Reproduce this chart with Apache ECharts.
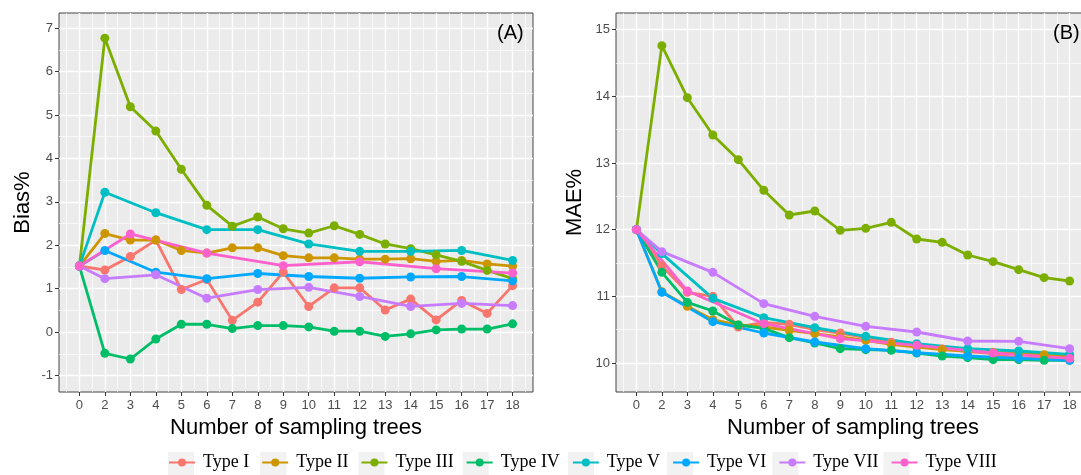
<!DOCTYPE html>
<html><head><meta charset="utf-8">
<script src="https://cdn.jsdelivr.net/npm/echarts@6/dist/echarts.min.js"></script>
<style>html,body{margin:0;padding:0;background:#fff}#c{width:1081px;height:475px}</style>
</head><body><div id="c"></div>
<script>
// Category labels of the x axis (number of sampling trees)
const cats = ['0','2','3','4','5','6','7','8','9','10','11','12','13','14','15','16','17','18'];
const typeNames = ['Type I','Type II','Type III','Type IV','Type V','Type VI','Type VII','Type VIII'];
const colors = ['#F8766D','#CD9600','#7CAE00','#00BE67','#00BFC4','#00A9FF','#C77CFF','#FF61CC'];

// Panel (A) Bias% (null = no observation at that category)
const biasI    = [1.52,1.43,1.74,2.12,0.98,1.21,0.27,0.69,1.38,0.59,1.02,1.02,0.51,0.76,0.28,0.73,0.43,1.07];
const biasII   = [1.52,2.27,2.12,2.12,1.88,1.82,1.94,1.94,1.76,1.71,1.71,1.68,1.68,1.69,1.63,1.65,1.57,1.52];
const biasIII  = [1.52,6.77,5.19,4.63,3.75,2.92,2.44,2.65,2.38,2.28,2.45,2.25,2.03,1.92,1.78,1.63,1.42,1.23];
const biasIV   = [1.52,-0.49,-0.62,-0.16,0.18,0.18,0.08,0.15,0.15,0.12,0.02,0.02,-0.10,-0.04,0.05,0.07,0.07,0.19];
const biasV    = [1.52,3.22,null,2.75,null,2.36,null,2.36,null,2.03,null,1.86,null,1.86,null,1.88,null,1.65];
const biasVI   = [1.52,1.88,null,1.38,null,1.23,null,1.35,null,1.28,null,1.24,null,1.27,null,1.28,null,1.18];
const biasVII  = [1.52,1.23,null,1.32,null,0.78,null,0.98,null,1.03,null,0.82,null,0.59,null,0.66,null,0.61];
const biasVIII = [1.52,null,2.26,null,null,1.82,null,null,1.53,null,null,1.62,null,null,1.46,null,null,1.36];

// Panel (B) MAE%
const maeI    = [12.0,11.46,11.06,11.00,10.54,10.61,10.58,10.50,10.45,10.38,10.31,10.26,10.21,10.17,10.14,10.07,10.09,10.08];
const maeII   = [12.0,11.07,10.85,10.65,10.57,10.54,10.49,10.44,10.39,10.34,10.28,10.24,10.20,10.18,10.16,10.15,10.125,10.09];
const maeIII  = [12.0,14.76,13.98,13.42,13.05,12.59,12.22,12.28,11.99,12.02,12.11,11.86,11.81,11.62,11.52,11.40,11.28,11.23];
const maeIV   = [12.0,11.36,10.91,10.78,10.57,10.52,10.38,10.30,10.215,10.20,10.19,10.15,10.105,10.08,10.05,10.05,10.04,10.04];
const maeV    = [12.0,11.64,null,10.97,null,10.68,null,10.53,null,10.40,null,10.29,null,10.215,null,10.18,null,10.13];
const maeVI   = [12.0,11.06,null,10.62,null,10.45,null,10.315,null,10.215,null,10.155,null,10.105,null,10.07,null,10.04];
const maeVII  = [12.0,11.67,null,11.36,null,10.89,null,10.70,null,10.55,null,10.465,null,10.33,null,10.325,null,10.215];
const maeVIII = [12.0,null,11.08,null,null,10.59,null,null,10.365,null,null,10.265,null,null,10.15,null,null,10.07];

// Tick values
const yTicksA = [-1,0,1,2,3,4,5,6,7];
const yMinorA = [-0.5,0.5,1.5,2.5,3.5,4.5,5.5,6.5];
const yTicksB = [10,11,12,13,14,15];
const yMinorB = [10.5,11.5,12.5,13.5,14.5];

const biasSets = [biasI,biasII,biasIII,biasIV,biasV,biasVI,biasVII,biasVIII];
const maeSets  = [maeI,maeII,maeIII,maeIV,maeV,maeVI,maeVII,maeVIII];

const xIdx = cats.map((c,i)=>i);
const xMinor = cats.concat(['']).map((c,i)=>i-0.5);
const FONT = 'Liberation Sans, Arial, sans-serif';

function mainX(g){
  return {type:'value', gridIndex:g, min:-0.8, max:17.8, position:'bottom',
    axisLine:{show:false, onZero:false},
    axisTick:{show:true, length:4, lineStyle:{color:'#333',width:1}, customValues:xIdx},
    axisLabel:{customValues:xIdx, formatter:v=>cats[Math.round(v)], color:'#4D4D4D', fontSize:13, fontFamily:FONT, margin:7},
    splitLine:{show:true, lineStyle:{color:'#fff', width:1.4}},
    name:'Number of sampling trees', nameLocation:'middle', nameGap:24,
    nameTextStyle:{fontSize:22, color:'#000', fontFamily:FONT}};
}
function minorX(g){
  return {type:'value', gridIndex:g, min:-0.8, max:17.8, position:'top',
    axisLine:{show:false, onZero:false}, axisLabel:{show:false},
    axisTick:{show:false, customValues:xMinor},
    splitLine:{show:true, lineStyle:{color:'#fff', width:0.7}}};
}
function mainY(g,min,max,ticks,name,gap){
  return {type:'value', gridIndex:g, min:min, max:max, position:'left',
    axisLine:{show:false, onZero:false},
    axisTick:{show:true, length:4, lineStyle:{color:'#333',width:1}, customValues:ticks},
    axisLabel:{customValues:ticks, color:'#4D4D4D', fontSize:13, fontFamily:FONT, margin:6},
    splitLine:{show:true, lineStyle:{color:'#fff', width:1.4}},
    name:name, nameLocation:'middle', nameGap:gap,
    nameTextStyle:{fontSize:22, color:'#000', fontFamily:FONT}};
}
function minorY(g,min,max,ticks){
  return {type:'value', gridIndex:g, min:min, max:max, position:'right',
    axisLine:{show:false, onZero:false}, axisLabel:{show:false},
    axisTick:{show:false, customValues:ticks},
    splitLine:{show:true, lineStyle:{color:'#fff', width:0.7}}};
}

const series = [];
[biasSets, maeSets].forEach((sets, g)=>{
  sets.forEach((vals, k)=>{
    series.push({
      name:typeNames[k], type:'line', xAxisIndex:g, yAxisIndex:g,
      data: vals.map((v,i)=>[i,v]).filter(d=>d[1]!==null),
      symbol:'circle', symbolSize:9, connectNulls:true,
      lineStyle:{width:2.8, color:colors[k]}, itemStyle:{color:colors[k]},
      emphasis:{disabled:true}, silent:true, animation:false, z:2
    });
  });
});

const legendText = {fontSize:18, fontFamily:'Liberation Serif, Times New Roman, serif', color:'#000', padding:[0,0,0,3]};

const gridBase = {show:true, backgroundColor:'#EBEBEB', borderColor:'#444', borderWidth:1, containLabel:false, outerBoundsMode:'none'};

const option = {
  animation:false,
  backgroundColor:'#fff',
  title:[
    {text:'(A)', left:497, top:23, padding:0, textStyle:{fontSize:20, fontWeight:'normal', color:'#000', fontFamily:FONT}},
    {text:'(B)', left:1053, top:23, padding:0, textStyle:{fontSize:20, fontWeight:'normal', color:'#000', fontFamily:FONT}}
  ],
  grid:[
    Object.assign({left:59, top:13, width:474, height:379}, gridBase),
    Object.assign({left:616, top:13, width:474, height:379}, gridBase)
  ],
  xAxis:[mainX(0), mainX(1), minorX(0), minorX(1)],
  yAxis:[
    mainY(0,-1.38,7.35,yTicksA,'Bias%',25),
    mainY(1,9.565,15.25,yTicksB,'MAE%',30),
    minorY(0,-1.38,7.35,yMinorA),
    minorY(1,9.565,15.25,yMinorB)
  ],
  legend:[
    {data:typeNames, orient:'horizontal', left:168, top:453.5, padding:0, itemGap:12,
     itemWidth:26, itemHeight:10, selectedMode:false, z:5, textStyle:legendText},
    {data:typeNames, orient:'horizontal', left:168, top:452, padding:0, itemGap:12,
     itemWidth:26, itemHeight:24, icon:'rect', selectedMode:false, z:3,
     itemStyle:{color:'#F2F2F2', borderWidth:0},
     textStyle:Object.assign({}, legendText, {color:'rgba(0,0,0,0)'})}
  ],
  series:series
};

const chart = echarts.init(document.getElementById('c'), null, {renderer:'canvas'});
chart.setOption(option);
</script>
</body></html>
